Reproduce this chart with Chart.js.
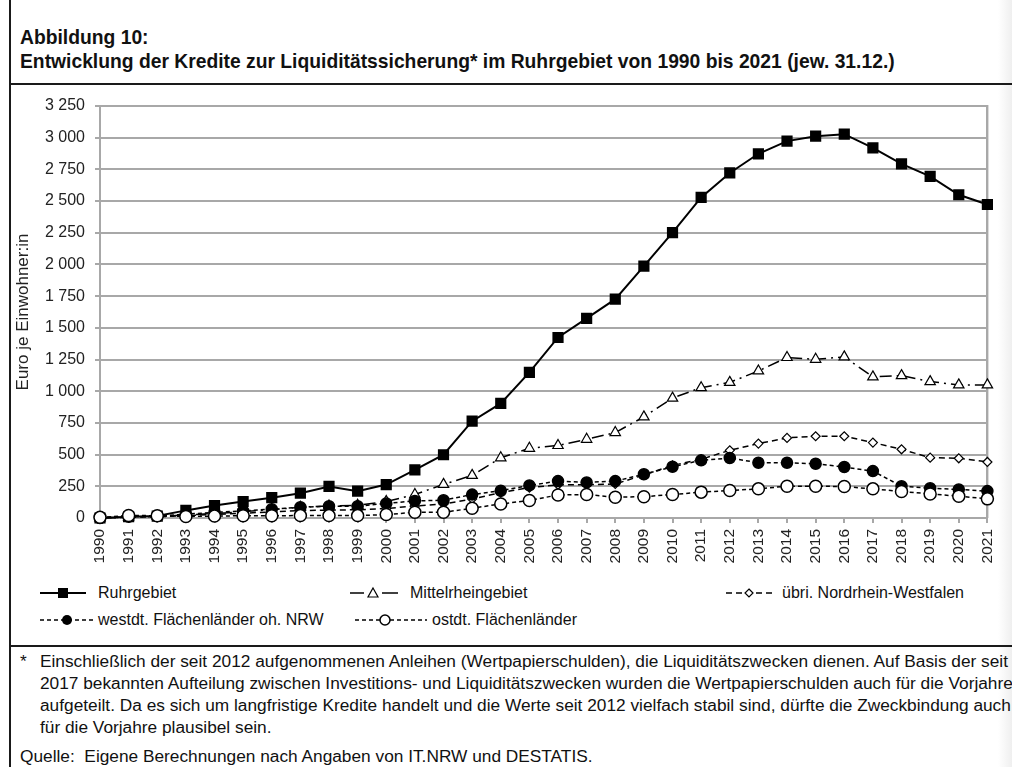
<!DOCTYPE html>
<html lang="de">
<head>
<meta charset="utf-8">
<script src="https://cdn.jsdelivr.net/npm/chart.js@4/dist/chart.umd.min.js"></script>
<style>
  html, body { margin:0; padding:0; background:#fff; }
  body { width:1012px; height:767px; position:relative; overflow:hidden; font-family:"Liberation Sans", Arial, sans-serif; color:#111; }
  .vrule { position:absolute; left:9px; top:0; width:2px; height:767px; background:#1a1a1a; }
  .hrule { position:absolute; left:9px; width:1003px; height:2px; background:#1a1a1a; }
  .shade { position:absolute; left:998px; top:0; width:14px; height:767px; background:linear-gradient(to right, rgba(235,235,235,0), rgba(235,235,235,0.8)); }
  .title { position:absolute; left:20px; top:26px; font-weight:bold; font-size:19.3px; line-height:24px; white-space:nowrap; }
  #wrap { position:absolute; left:0; top:84px; width:1012px; height:484px; }
  .leg { position:absolute; font-size:16px; white-space:nowrap; display:flex; align-items:center; height:20px; }
  .leg svg { display:block; margin-right:4px; }
  .foot { position:absolute; left:20px; top:650px; font-size:17.3px; line-height:22px; white-space:nowrap; }
  .foot .star { position:absolute; left:0; top:0; }
  .foot .txt { position:absolute; left:20px; top:0; }
  .src { position:absolute; left:20px; top:746px; font-size:17.3px; white-space:nowrap; }
</style>
</head>
<body>
<div class="shade"></div>
<div class="vrule"></div>
<div class="hrule" style="top:83px"></div>
<div class="hrule" style="top:645px"></div>
<div class="title">Abbildung 10:<br>Entwicklung der Kredite zur Liquiditätssicherung* im Ruhrgebiet von 1990 bis 2021 (jew. 31.12.)</div>
<div id="wrap"><canvas id="c" width="1012" height="484"></canvas></div>

<div class="leg" style="left:40px; top:583px;">
  <svg width="54" height="20"><line x1="0" y1="10" x2="46" y2="10" stroke="#000" stroke-width="2"/><rect x="18" y="5" width="10" height="10" fill="#000"/></svg>Ruhrgebiet</div>
<div class="leg" style="left:350px; top:583px;">
  <svg width="56" height="20"><line x1="0" y1="10" x2="14" y2="10" stroke="#000" stroke-width="1.5"/><line x1="32" y1="10" x2="48" y2="10" stroke="#000" stroke-width="1.5"/><polygon points="23,5 28,14 18,14" fill="#fff" stroke="#000" stroke-width="1.2"/></svg>Mittelrheingebiet</div>
<div class="leg" style="left:726px; top:583px;">
  <svg width="52" height="20"><line x1="0" y1="10" x2="46" y2="10" stroke="#000" stroke-width="1.5" stroke-dasharray="6,4"/><polygon points="23,6 27,10 23,14 19,10" fill="#fff" stroke="#000" stroke-width="1.2"/></svg>übri. Nordrhein-Westfalen</div>
<div class="leg" style="left:40px; top:610px;">
  <svg width="54" height="20"><line x1="0" y1="10" x2="54" y2="10" stroke="#000" stroke-width="1.5" stroke-dasharray="4,3"/><circle cx="27" cy="10" r="5" fill="#000"/></svg>westdt. Flächenländer oh. NRW</div>
<div class="leg" style="left:355px; top:610px;">
  <svg width="73" height="20"><line x1="0" y1="10" x2="72" y2="10" stroke="#000" stroke-width="1.5" stroke-dasharray="4,3"/><circle cx="30" cy="10" r="5" fill="#fff" stroke="#000" stroke-width="1.5"/></svg>ostdt. Flächenländer</div>

<div class="foot"><span class="star">*</span><div class="txt">Einschließlich der seit 2012 aufgenommenen Anleihen (Wertpapierschulden), die Liquiditätszwecken dienen. Auf Basis der seit<br>2017 bekannten Aufteilung zwischen Investitions- und Liquiditätszwecken wurden die Wertpapierschulden auch für die Vorjahre<br>aufgeteilt. Da es sich um langfristige Kredite handelt und die Werte seit 2012 vielfach stabil sind, dürfte die Zweckbindung auch<br>für die Vorjahre plausibel sein.</div></div>
<div class="src">Quelle:&nbsp; Eigene Berechnungen nach Angaben von IT.NRW und DESTATIS.</div>

<script>
const years = ["1990","1991","1992","1993","1994","1995","1996","1997","1998","1999","2000","2001","2002","2003","2004","2005","2006","2007","2008","2009","2010","2011","2012","2013","2014","2015","2016","2017","2018","2019","2020","2021"];
const ruhrgebiet = [0,10,15,60,98,130,160,196,249,212,264,380,499,764,904,1149,1424,1575,1726,1987,2251,2529,2722,2873,2973,3012,3028,2920,2793,2695,2550,2473];
const mittelrhein = [0,8,12,25,35,50,65,85,95,100,130,185,265,336,475,550,572,621,674,798,946,1028,1070,1160,1266,1252,1271,1113,1123,1076,1050,1050];
const uebrigNRW = [0,5,10,18,28,38,48,58,62,65,75,95,110,150,200,240,262,262,268,340,415,463,534,587,632,645,645,595,542,476,471,442];
const westdt = [0,10,15,30,45,55,70,85,93,93,115,135,140,185,215,257,291,281,291,345,404,455,473,436,436,428,402,370,251,235,225,212];
const ostdt = [5,20,18,12,15,18,18,19,19,19,27,45,45,77,111,138,182,185,164,168,185,204,217,230,251,251,248,230,209,190,172,151];
const yMax = 3250, yStep = 250;

const GRID = '#a8a8a8';
const frame = {
  id:'frame',
  beforeDatasetsDraw(chart){
    const {ctx, chartArea:a} = chart;
    ctx.save(); ctx.strokeStyle = GRID; ctx.lineWidth = 2;
    ctx.beginPath(); ctx.moveTo(a.right, a.top-1); ctx.lineTo(a.right, a.bottom); ctx.stroke();
    ctx.restore();
  }
};

new Chart(document.getElementById('c'), {
  type:'line',
  data:{
    labels: years,
    datasets:[
      {label:'ostdt. Flächenländer', data:ostdt, borderColor:'#000', borderWidth:1.5, borderDash:[4,3], pointStyle:'circle', pointRadius:6, pointBackgroundColor:'#fff', pointBorderColor:'#000', pointBorderWidth:1.5, order:0, clip:false},
      {label:'westdt. Flächenländer oh. NRW', data:westdt, borderColor:'#000', borderWidth:1.5, borderDash:[4,3], pointStyle:'circle', pointRadius:5.5, pointBackgroundColor:'#000', pointBorderColor:'#000', order:2, clip:false},
      {label:'übri. Nordrhein-Westfalen', data:uebrigNRW, borderColor:'#000', borderWidth:1.5, borderDash:[6,4], pointStyle:'rectRot', pointRadius:4.5, pointBackgroundColor:'#fff', pointBorderColor:'#000', pointBorderWidth:1.2, order:3, clip:false},
      {label:'Mittelrheingebiet', data:mittelrhein, borderColor:'#000', borderWidth:1.5, borderDash:[12,5,2,5], pointStyle:'triangle', pointRadius:6, pointBackgroundColor:'#fff', pointBorderColor:'#000', pointBorderWidth:1.2, order:4, clip:false},
      {label:'Ruhrgebiet', data:ruhrgebiet, borderColor:'#000', borderWidth:2, pointStyle:'rect', pointRadius:6.5, pointBackgroundColor:'#000', pointBorderColor:'#000', order:1, clip:false}
    ]
  },
  options:{
    responsive:false, animation:false,
    layout:{padding:{top:22, right:20, left:0, bottom:0}},
    plugins:{legend:{display:false}, tooltip:{enabled:false}},
    elements:{line:{tension:0}},
    scales:{
      x:{
        offset:false,
        grid:{color:(c)=> c.index===years.length-1 ? GRID : 'rgba(0,0,0,0)', lineWidth:2, tickColor:GRID, tickLength:5, drawOnChartArea:true},
        border:{color:GRID, width:2},
        ticks:{color:'#222', font:{family:'Liberation Sans', size:15.5}, minRotation:90, maxRotation:90, padding:6, autoSkip:false},
        afterFit:(s)=>{ s.height = 50; }
      },
      y:{
        min:0, max:yMax,
        grid:{color:GRID, lineWidth:2, tickColor:GRID, tickLength:5},
        border:{color:GRID, width:2},
        ticks:{stepSize:yStep, color:'#222', padding:10, font:{family:'Liberation Sans', size:16},
          callback:(v)=> String(v).replace(/\B(?=(\d{3})+(?!\d))/g,' ')},
        title:{display:true, text:'Euro je Einwohner:in', color:'#222', font:{family:'Liberation Sans', size:17}, padding:{top:13, bottom:0}},
        afterFit:(s)=>{ s.width = 100; }
      }
    }
  },
  plugins:[frame]
});
</script>
</body>
</html>
